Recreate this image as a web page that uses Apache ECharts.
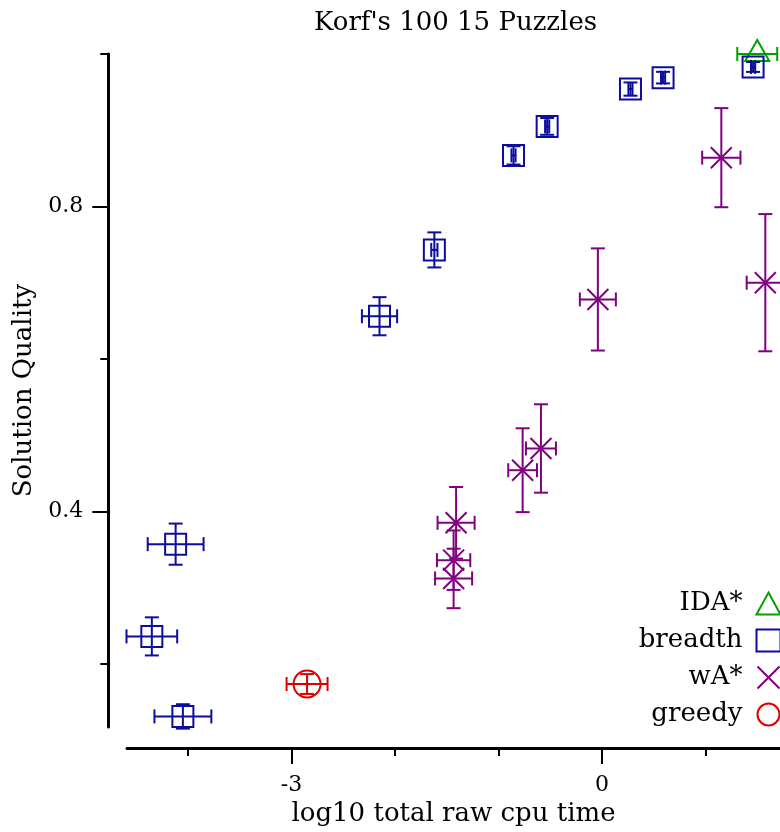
<!DOCTYPE html>
<html>
<head>
<meta charset="utf-8">
<title>Korf's 100 15 Puzzles</title>
<script src="https://cdn.jsdelivr.net/npm/echarts@6/dist/echarts.min.js"></script>
<style>
  html, body { margin: 0; padding: 0; background: #fff; }
  #chart { width: 780px; height: 832px; }
</style>
</head>
<body>
<div id="chart"></div>
<script>
// ---- data: log10 cpu time (x), solution quality (y), and their error half-widths ----
const idaX = [1.50];
const idaY = [1.000];
const idaXErr = [0.193];
const idaYErr = [0.0];

const breadthX = [-4.12, -4.35, -4.05, -2.15, -1.62, -0.855, -0.53, 0.275, 0.59, 1.46];
const breadthY = [0.357, 0.236, 0.131, 0.656, 0.743, 0.867, 0.905, 0.954, 0.969, 0.983];
const breadthXErr = [0.27, 0.245, 0.275, 0.17, 0.03, 0.02, 0.02, 0.02, 0.02, 0.02];
const breadthYErr = [0.027, 0.025, 0.016, 0.025, 0.023, 0.012, 0.011, 0.0087, 0.0076, 0.0065];

const waX = [-0.04, 1.578, 1.153, -0.59, -0.767, -1.41, -1.434, -1.434];
const waY = [0.678, 0.700, 0.864, 0.4825, 0.454, 0.385, 0.336, 0.312];
const waXErr = [0.174, 0.18, 0.185, 0.145, 0.139, 0.179, 0.161, 0.179];
const waYErr = [0.067, 0.09, 0.065, 0.058, 0.055, 0.047, 0.039, 0.039];

const greedyX = [-2.85];
const greedyY = [0.1735];
const greedyXErr = [0.198];
const greedyYErr = [0.013];

// ---- axis ticks and labels ----
const xMajorTicks = [-3, 0];
const xMinorTicks = [-4, -2, -1, 1];
const yMajorTicks = [0.4, 0.8];
const yMinorTicks = [0.2, 0.6, 1.0];

const seriesNames = ['IDA*', 'breadth', 'wA*', 'greedy'];
const colors = { ida: '#00a000', breadth: '#0c0ca0', wa: '#800080', greedy: '#dd0000' };

const FONT = "'DejaVu Serif', serif";

function rows(xs, ys, xe, ye) {
  return xs.map((x, i) => [x, ys[i], xe[i], ye[i]]);
}

// Draws a point with horizontal and vertical error bars plus its marker.
function errorMark(shape, color) {
  return function (params, api) {
    const x = api.value(0), y = api.value(1), xe = api.value(2), ye = api.value(3);
    const c = api.coord([x, y]);
    const l = api.coord([x - xe, y]), r = api.coord([x + xe, y]);
    const t = api.coord([x, y + ye]), b = api.coord([x, y - ye]);
    const style = { stroke: color, lineWidth: 2, fill: 'none' };
    const cap = 7;
    const seg = (x1, y1, x2, y2) => ({ type: 'line', shape: { x1, y1, x2, y2 }, style });
    const children = [
      seg(l[0], c[1], r[0], c[1]),
      seg(c[0], t[1], c[0], b[1]),
      seg(l[0], c[1] - cap, l[0], c[1] + cap),
      seg(r[0], c[1] - cap, r[0], c[1] + cap),
      seg(c[0] - cap, t[1], c[0] + cap, t[1]),
      seg(c[0] - cap, b[1], c[0] + cap, b[1])
    ];
    if (shape === 'square') {
      children.push({ type: 'rect', shape: { x: c[0] - 10.5, y: c[1] - 10.5, width: 21, height: 21 }, style });
    } else if (shape === 'circle') {
      children.push({ type: 'circle', shape: { cx: c[0], cy: c[1], r: 13.5 }, style });
    } else if (shape === 'triangle') {
      children.push({ type: 'polygon', shape: { points: [[c[0], c[1] - 14], [c[0] + 12, c[1] + 7], [c[0] - 12, c[1] + 7]] }, style });
    } else if (shape === 'cross') {
      children.push(seg(c[0] - 10.5, c[1] - 10.5, c[0] + 10.5, c[1] + 10.5));
      children.push(seg(c[0] - 10.5, c[1] + 10.5, c[0] + 10.5, c[1] - 10.5));
    }
    return { type: 'group', children };
  };
}

const xMin = -4.59, xMax = 1.72;
const yMin = 0.117, yMax = 1.0;

const axisText = { fontFamily: FONT, fontSize: 22, color: '#000' };
const nameText = { fontFamily: FONT, fontSize: 26, color: '#000' };
const blackLine = { color: '#000', width: 2 };

const chart = echarts.init(document.getElementById('chart'), null, { renderer: 'canvas' });

chart.setOption({
  backgroundColor: '#fff',
  animation: false,
  title: {
    text: "Korf's 100 15 Puzzles",
    left: 314, top: 10, padding: 0,
    textStyle: { fontFamily: FONT, fontSize: 26, fontWeight: 'normal', color: '#000' }
  },
  grid: { left: 127, right: 0, top: 54, bottom: 101.3, containLabel: false },
  legend: {
    orient: 'vertical', right: -8, top: 585, align: 'right',
    itemWidth: 24, itemHeight: 22, itemGap: 10,
    selectedMode: false,
    textStyle: { fontFamily: FONT, fontSize: 26, color: '#000', lineHeight: 22, padding: [0, 9, 0, 0] },
    data: [
      { name: 'IDA*', icon: 'triangle', itemStyle: { color: 'none', borderColor: colors.ida, borderWidth: 2 } },
      { name: 'breadth', icon: 'rect', itemStyle: { color: 'none', borderColor: colors.breadth, borderWidth: 2 } },
      { name: 'wA*', icon: 'path://M0,0L20,20M20,0L0,20', itemStyle: { color: 'none', borderColor: colors.wa, borderWidth: 2 } },
      { name: 'greedy', icon: 'circle', itemStyle: { color: 'none', borderColor: colors.greedy, borderWidth: 2 } }
    ]
  },
  xAxis: [
    {
      type: 'value', min: xMin, max: xMax, position: 'bottom', offset: 21,
      axisLine: { show: true, onZero: false, lineStyle: { color: '#000', width: 3 } },
      axisTick: { show: true, customValues: xMajorTicks, length: 16, lineStyle: blackLine },
      axisLabel: { customValues: xMajorTicks, margin: 26, formatter: v => String(v), ...axisText },
      splitLine: { show: false },
      name: 'log10 total raw cpu time', nameLocation: 'middle', nameGap: 51, nameTextStyle: nameText
    },
    {
      type: 'value', min: xMin, max: xMax, position: 'bottom', offset: 21,
      axisLine: { show: false, onZero: false },
      axisTick: { show: true, customValues: xMinorTicks, length: 8, lineStyle: blackLine },
      axisLabel: { show: false },
      splitLine: { show: false }
    }
  ],
  yAxis: [
    {
      type: 'value', min: yMin, max: yMax, position: 'left', offset: 18.7,
      axisLine: { show: true, onZero: false, lineStyle: { color: '#000', width: 3 } },
      axisTick: { show: true, customValues: yMajorTicks, length: 16, lineStyle: blackLine },
      axisLabel: { customValues: yMajorTicks, margin: 25, formatter: v => v.toFixed(1), ...axisText },
      splitLine: { show: false },
      name: 'Solution Quality', nameLocation: 'middle', nameGap: 54, nameTextStyle: nameText
    },
    {
      type: 'value', min: yMin, max: yMax, position: 'left', offset: 18.7,
      axisLine: { show: false, onZero: false },
      axisTick: { show: true, customValues: yMinorTicks, length: 8, lineStyle: blackLine },
      axisLabel: { show: false },
      splitLine: { show: false }
    }
  ],
  series: [
    { name: seriesNames[0], type: 'custom', renderItem: errorMark('triangle', colors.ida),
      itemStyle: { color: colors.ida }, encode: { x: 0, y: 1 }, clip: false, data: rows(idaX, idaY, idaXErr, idaYErr) },
    { name: seriesNames[1], type: 'custom', renderItem: errorMark('square', colors.breadth),
      itemStyle: { color: colors.breadth }, encode: { x: 0, y: 1 }, clip: false, data: rows(breadthX, breadthY, breadthXErr, breadthYErr) },
    { name: seriesNames[2], type: 'custom', renderItem: errorMark('cross', colors.wa),
      itemStyle: { color: colors.wa }, encode: { x: 0, y: 1 }, clip: false, data: rows(waX, waY, waXErr, waYErr) },
    { name: seriesNames[3], type: 'custom', renderItem: errorMark('circle', colors.greedy),
      itemStyle: { color: colors.greedy }, encode: { x: 0, y: 1 }, clip: false, data: rows(greedyX, greedyY, greedyXErr, greedyYErr) }
  ]
});
</script>
</body>
</html>
